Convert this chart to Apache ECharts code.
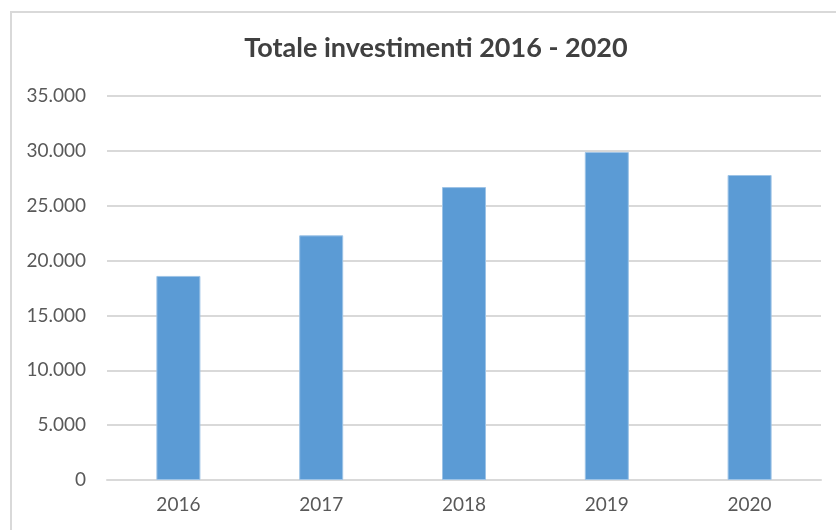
<!DOCTYPE html>
<html>
<head>
<meta charset="utf-8">
<script src="https://cdn.jsdelivr.net/npm/echarts@6/dist/echarts.min.js"></script>
<style>
  html, body { margin: 0; padding: 0; background: #fff; }
  #chart { width: 836px; height: 530px; }
</style>
</head>
<body>
<div id="chart"></div>
<script>
const years = ['2016', '2017', '2018', '2019', '2020']
const investimenti = [18600, 22300, 26700, 29900, 27800]
const yTicks = { min: 0, max: 35000, interval: 5000 }

// 35000 -> "35.000"
function formatIt (v) {
  return String(v).replace(/\B(?=(\d{3})+(?!\d))/g, '.')
}

const font = 'Lato'
const chart = echarts.init(document.getElementById('chart'))
chart.setOption({
  animation: false,
  backgroundColor: '#fff',
  title: {
    text: 'Totale investimenti 2016 - 2020',
    left: 431,
    top: 30,
    textAlign: 'center',
    textStyle: {
      fontFamily: font,
      fontSize: 27,
      fontWeight: 'bold',
      color: '#404040'
    }
  },
  graphic: [{
    type: 'rect',
    silent: true,
    shape: { x: 11, y: 12, width: 860, height: 560 },
    style: { fill: 'none', stroke: '#d9d9d9', lineWidth: 2 }
  }],
  grid: {
    left: 107,
    right: 15,
    top: 96,
    bottom: 50
  },
  xAxis: {
    type: 'category',
    data: years,
    axisTick: { show: false },
    axisLine: { show: true, lineStyle: { color: '#d9d9d9', width: 2 } },
    axisLabel: {
      margin: 15,
      fontFamily: font,
      fontSize: 19,
      color: '#595959'
    }
  },
  yAxis: {
    type: 'value',
    min: yTicks.min,
    max: yTicks.max,
    interval: yTicks.interval,
    axisLine: { show: false },
    axisTick: { show: false },
    splitLine: { lineStyle: { color: '#d9d9d9', width: 2 } },
    axisLabel: {
      margin: 21,
      fontFamily: font,
      fontSize: 19,
      color: '#595959',
      formatter: formatIt
    }
  },
  series: [{
    name: 'Totale investimenti',
    type: 'bar',
    barWidth: 44,
    data: investimenti,
    itemStyle: {
      color: '#5b9bd5',
      borderColor: '#9dc3e6',
      borderWidth: 1
    }
  }]
})
</script>
</body>
</html>
